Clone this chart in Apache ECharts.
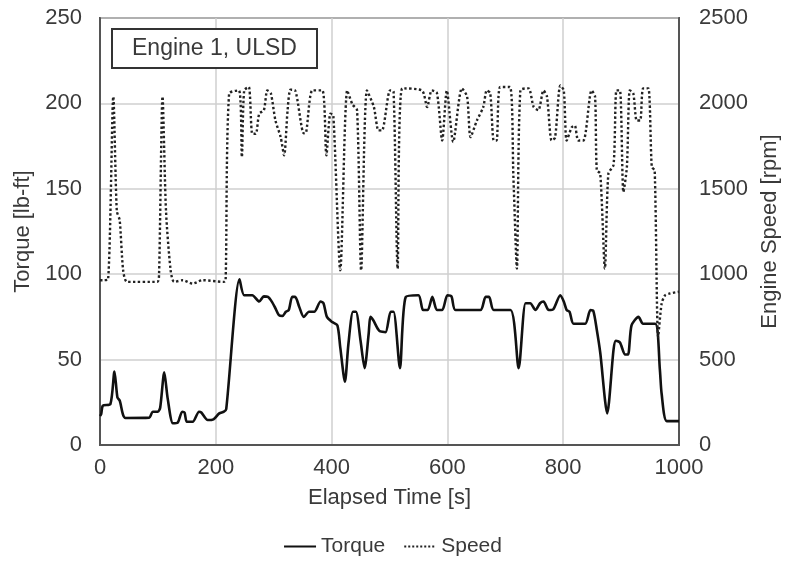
<!DOCTYPE html>
<html>
<head>
    <meta charset="utf-8">
    <title>Engine 1, ULSD</title>
    <script src="https://cdn.jsdelivr.net/npm/echarts@6/dist/echarts.min.js"></script>
    <style>
        html, body { margin: 0; padding: 0; background: #fff; }
        #chart1 { width: 785px; height: 568px; }
    </style>
</head>
<body>
<div id="chart1"></div>
<script type="text/javascript">
    // torque trace [s, lb-ft]
    var torqueData = [
        [0,17],[2,18],[5,23],[18,24],[25,43],[30,28],[34,26],[44,15.8],[85,16],[91,19.5],
        [100,19.5],[104,22],[111,42.5],[117,27],[126,12.7],[134,13],[142,19.5],[146,19],[150,13.6],[160,13.6],
        [171,19.5],[175,19],[186,14.6],[196,15],[206,18.5],[214,19.5],[218,21],[241,97],[249,87.7],[263,87.7],
        [275,84],[283,87],[290,86.7],[297,83.8],[303,80],[309,76],[315,75.5],[321,78],[326,79],[332,86.7],
        [337,86.7],[344,81],[352,75],[361,78],[370,78],[381,84],[386,83],[392,75],[401,72],[410,70],
        [415,57],[423,37],[429,59],[437,78],[442,78],[450,61],[457,45],[464,65],[467,75],[472,73],
        [482,67],[493,66],[502,78],[507,78],[518,45],[528,86.7],[550,87.7],[558,79],[566,79],[574,86.7],
        [582,79],[591,79],[600,87.7],[607,87],[614,79],[657,79],[666,86.7],[672,86.7],[680,79],[709,79],
        [723,45],[735,83],[743,83],[752,79],[760,83],[766,84],[775,79],[783,79.5],[795,87.7],[801,84],
        [806,79],[811,78],[818,71],[838,71],[847,79],[852,78.5],[858,67.5],[864,54],[876,18.5],[887,56],
        [891,61],[898,60],[907,53],[912,53],[918,70],[930,75],[938,71],[959,71],[967,44],[970,30],
        [979,14],[1000,14]
    ];

    // engine speed trace [s, rpm]
    var speedData = [
        [0,965],[5,965],[14,970],[23,2040],[29,1370],[34,1316],[40,1023],[47,955],[99,955],[102,1000],
        [108,2040],[114,1370],[122,1023],[128,955],[143,965],[160,945],[177,965],[214,955],[217,965],[223,2057],
        [240,2076],[245,1686],[249,2076],[257,2096],[263,1822],[269,1822],[275,1940],[283,1960],[289,2076],[295,2060],
        [303,1900],[312,1803],[318,1696],[324,1960],[329,2080],[337,2076],[352,1825],[356,1830],[367,2076],[384,2076],
        [391,1696],[398,1940],[403,1930],[415,1023],[427,2076],[436,1994],[444,1960],[451,1023],[461,2076],[473,1979],
        [481,1842],[487,1842],[501,2076],[507,2070],[514,1033],[522,2088],[556,2076],[565,1979],[573,2076],[582,2060],
        [591,1783],[599,2076],[610,1774],[625,2088],[634,2040],[640,1803],[651,1900],[662,1979],[668,2076],[674,2060],
        [680,1783],[685,1783],[691,2096],[708,2096],[714,1569],[720,1033],[726,2076],[740,2088],[749,1979],[757,1960],
        [766,2076],[772,2040],[780,1783],[786,1800],[795,2105],[801,2076],[806,1783],[815,1861],[820,1870],[826,1783],
        [835,1783],[849,2076],[855,2040],[858,1608],[864,1590],[872,1033],[878,1588],[887,1640],[892,2076],[898,2076],
        [904,1481],[910,1628],[915,2076],[921,2060],[927,1900],[933,1900],[938,2088],[947,2088],[953,1628],[958,1608],
        [964,633],[970,828],[976,877],[984,887],[1000,897]
    ];

    var font = "'Liberation Sans', Arial, sans-serif";
    var txt = '#3a3a3a';
    var plain = function (v) { return String(v); };

    var myChart1 = echarts.init(document.getElementById('chart1'));

    myChart1.setOption({
        animation: false,
        backgroundColor: '#fff',
        textStyle: { fontFamily: font },
        title: {
            text: 'Engine 1, ULSD',
            left: 112,
            top: 29,
            padding: [8, 20],
            borderWidth: 2,
            borderColor: '#333',
            backgroundColor: '#fff',
            textStyle: { fontSize: 23, fontWeight: 'normal', color: txt, fontFamily: font }
        },
        grid: {
            left: 100, right: 106, top: 18, bottom: 123,
            containLabel: false,
            outerBoundsMode: 'none',
            show: true, borderColor: '#555', borderWidth: 2
        },
        legend: {
            bottom: 6,
            left: 'center',
            itemWidth: 32,
            itemGap: 18,
            itemStyle: { opacity: 0 },
            textStyle: { fontSize: 21, color: txt, fontFamily: font },
            data: ['Torque', 'Speed']
        },
        xAxis: {
            type: 'value',
            min: 0, max: 1000, interval: 200,
            name: 'Elapsed Time [s]',
            nameLocation: 'middle',
            nameGap: 42,
            nameTextStyle: { fontSize: 22, color: txt },
            axisLine: { show: true, lineStyle: { color: '#555', width: 2 } },
            axisTick: { show: false },
            axisLabel: { fontSize: 22, color: txt, margin: 12, formatter: plain },
            splitLine: { show: true, lineStyle: { color: '#cfcfcf', width: 1.5 } }
        },
        yAxis: [{
            type: 'value',
            min: 0, max: 250, interval: 50,
            name: 'Torque [lb-ft]',
            nameLocation: 'middle',
            nameGap: 64,
            nameTextStyle: { fontSize: 22, color: txt },
            axisLine: { show: true, lineStyle: { color: '#555', width: 2 } },
            axisTick: { show: false },
            axisLabel: { fontSize: 22, color: txt, margin: 18, formatter: plain },
            splitLine: { show: true, lineStyle: { color: '#cfcfcf', width: 1.5 } }
        }, {
            type: 'value',
            min: 0, max: 2500, interval: 500,
            name: 'Engine Speed [rpm]',
            nameLocation: 'middle',
            nameGap: 76,
            nameTextStyle: { fontSize: 22, color: txt },
            axisLine: { show: true, lineStyle: { color: '#555', width: 2 } },
            axisTick: { show: false },
            axisLabel: { fontSize: 22, color: txt, margin: 20, formatter: plain },
            splitLine: { show: false }
        }],
        series: [{
            name: 'Torque',
            type: 'line',
            yAxisIndex: 0,
            symbol: 'none',
            smooth: 0.25,
            lineStyle: { color: '#111', width: 2.6 },
            itemStyle: { color: '#111' },
            data: torqueData
        }, {
            name: 'Speed',
            type: 'line',
            yAxisIndex: 1,
            symbol: 'none',
            smooth: 0.25,
            lineStyle: { color: '#222', width: 2.4, type: 'dotted' },
            itemStyle: { color: '#222' },
            data: speedData
        }]
    });
</script>
</body>
</html>
